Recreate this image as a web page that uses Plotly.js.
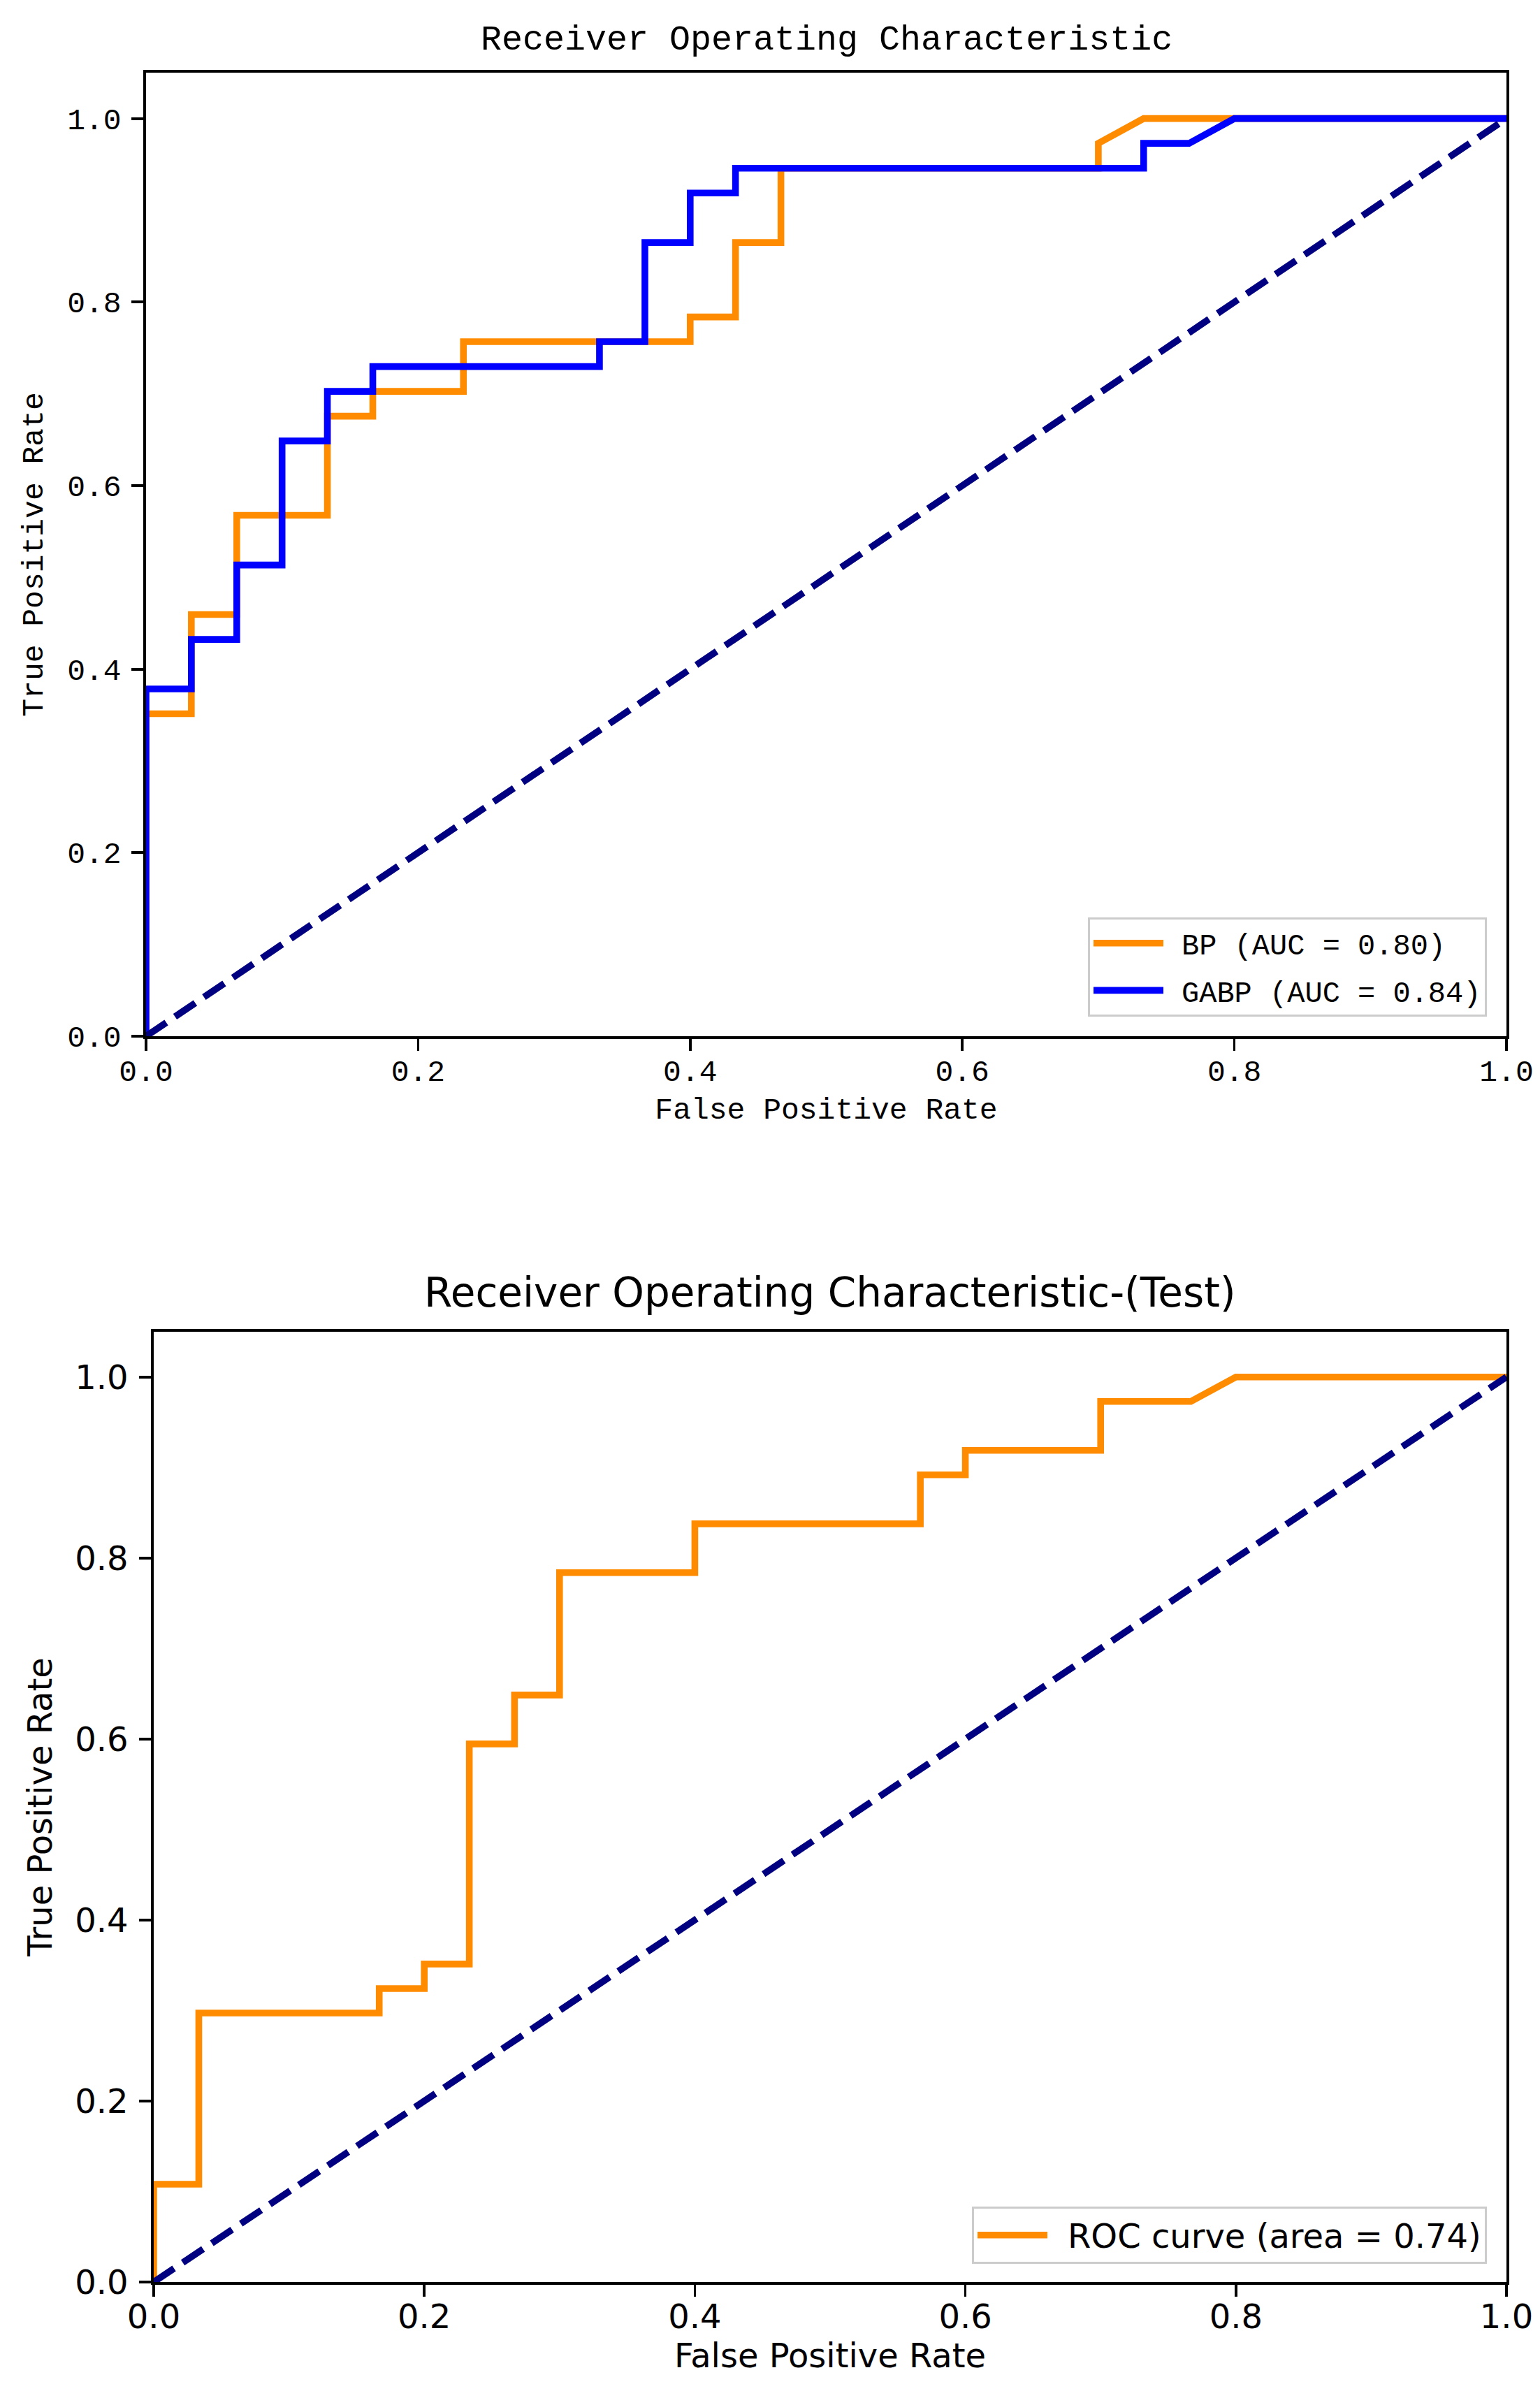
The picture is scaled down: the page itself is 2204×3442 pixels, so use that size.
<!DOCTYPE html>
<html>
<head>
<meta charset="utf-8">
<script src="https://cdn.plot.ly/plotly-3.0.1.min.js"></script>
<style>html,body{margin:0;padding:0;background:#fff;} #chart{width:2204px;height:3442px;}</style>
</head>
<body>
<div id="chart"></div>
<script>
// ---- Data ----
const bp_fpr   = [0,0,0.0333,0.0333,0.0667,0.0667,0.1333,0.1333,0.1667,0.1667,0.2333,0.2333,0.4,0.4,0.4333,0.4333,0.4667,0.4667,0.7,0.7,0.7333,1.0];
const bp_tpr   = [0,0.3514,0.3514,0.4595,0.4595,0.5676,0.5676,0.6757,0.6757,0.7027,0.7027,0.7568,0.7568,0.7838,0.7838,0.8649,0.8649,0.9459,0.9459,0.9730,1.0,1.0];
const gabp_fpr = [0,0,0.0333,0.0333,0.0667,0.0667,0.1,0.1,0.1333,0.1333,0.1667,0.1667,0.3333,0.3333,0.3667,0.3667,0.4,0.4,0.4333,0.4333,0.7333,0.7333,0.7667,0.8,1.0];
const gabp_tpr = [0,0.3784,0.3784,0.4324,0.4324,0.5135,0.5135,0.6486,0.6486,0.7027,0.7027,0.7297,0.7297,0.7568,0.7568,0.8649,0.8649,0.9189,0.9189,0.9459,0.9459,0.9730,0.9730,1.0,1.0];
const test_fpr = [0,0,0.0333,0.0333,0.1667,0.1667,0.2,0.2,0.2333,0.2333,0.2667,0.2667,0.3,0.3,0.4,0.4,0.5667,0.5667,0.6,0.6,0.7,0.7,0.7667,0.8,1.0];
const test_tpr = [0,0.1081,0.1081,0.2973,0.2973,0.3243,0.3243,0.3514,0.3514,0.5946,0.5946,0.6486,0.6486,0.7838,0.7838,0.8378,0.8378,0.8919,0.8919,0.9189,0.9189,0.9730,0.9730,1.0,1.0];
const diag_x = [0, 1];
const diag_y = [0, 1];
const tick_vals = [0, 0.2, 0.4, 0.6, 0.8, 1.0];
const tick_text = ["0.0", "0.2", "0.4", "0.6", "0.8", "1.0"];
const bp_name = "BP (AUC = 0.80)";
const gabp_name = "GABP (AUC = 0.84)";
const test_name = "ROC curve (area = 0.74)";
const title_top = "Receiver Operating Characteristic";
const title_bottom = "Receiver Operating Characteristic-(Test)";
const x_label = "False Positive Rate";
const y_label = "True Positive Rate";

// ---- Styling ----
const W = 2204, H = 3442;
const monoFont = "Liberation Mono, DejaVu Sans Mono, monospace";
const sansFont = "DejaVu Sans, sans-serif";
const LW = 9.6;
const dashStr = "35px,15px";
const gap = "\u2002";   // visual gap between legend handle and label

const traces = [
  {x: bp_fpr, y: bp_tpr, xaxis: 'x', yaxis: 'y', mode: 'lines', name: gap + bp_name,
   line: {color: '#ff8c00', width: LW}, legend: 'legend', legendgroup: 'g1'},
  {x: gabp_fpr, y: gabp_tpr, xaxis: 'x', yaxis: 'y', mode: 'lines', name: gap + gabp_name,
   line: {color: '#0000ff', width: LW}, legend: 'legend', legendgroup: 'g2'},
  {x: diag_x, y: diag_y, xaxis: 'x', yaxis: 'y', mode: 'lines', showlegend: false,
   line: {color: '#000080', width: LW, dash: dashStr}},
  {x: test_fpr, y: test_tpr, xaxis: 'x2', yaxis: 'y2', mode: 'lines', name: gap + test_name,
   line: {color: '#ff8c00', width: LW}, legend: 'legend2'},
  {x: diag_x, y: diag_y, xaxis: 'x2', yaxis: 'y2', mode: 'lines', showlegend: false,
   line: {color: '#000080', width: LW, dash: dashStr}}
];

function axis(domain, range, font, size, titleText, anchor, standoff, labelStandoff) {
  return {
    domain: domain, range: range, anchor: anchor,
    showgrid: false, zeroline: false,
    showline: true, linecolor: '#000', linewidth: 3.8, mirror: true,
    ticks: 'outside', ticklen: 17, tickwidth: 3.8, tickcolor: '#000',
    tickvals: tick_vals, ticktext: tick_text,
    tickfont: {family: font, size: size, color: '#000'},
    ticklabelstandoff: labelStandoff,
    title: {text: titleText, font: {family: font, size: size, color: '#000'}, standoff: standoff},
    automargin: false, fixedrange: true
  };
}

const topX = [209/W, 2156/W];
const topY = [1 - 1483/H, 1 - 104/H];
const botX = [220/W, 2156/W];
const botY = [1 - 3266/H, 1 - 1906/H];

const layout = {
  width: W, height: H,
  margin: {l: 0, r: 0, t: 0, b: 0},
  paper_bgcolor: '#fff', plot_bgcolor: '#fff',
  xaxis:  axis(topX, [0, 1], monoFont, 43, x_label, 'y', 12, -8),
  yaxis:  axis(topY, [0, 1.05], monoFont, 43, y_label, 'x', 22, 6),
  xaxis2: axis(botX, [0, 1], sansFont, 48, x_label, 'y2', 6, -12),
  yaxis2: axis(botY, [0, 1.05], sansFont, 48, y_label, 'x2', 18, 6),
  legend: {
    x: 2128/W, y: 1 - 1455/H, xanchor: 'right', yanchor: 'bottom',
    bgcolor: 'rgba(255,255,255,0.8)', bordercolor: '#cccccc', borderwidth: 3,
    font: {family: monoFont, size: 42, color: '#000'}, itemwidth: 100,
    traceorder: 'grouped', tracegroupgap: 10
  },
  legend2: {
    x: 2128/W, y: 1 - 3240/H, xanchor: 'right', yanchor: 'bottom',
    bgcolor: 'rgba(255,255,255,0.8)', bordercolor: '#cccccc', borderwidth: 3,
    font: {family: sansFont, size: 48, color: '#000'}, itemwidth: 100
  },
  annotations: [
    {text: title_top, xref: 'paper', yref: 'paper', x: (topX[0]+topX[1])/2, y: 1 - 88/H,
     xanchor: 'center', yanchor: 'bottom', showarrow: false,
     font: {family: monoFont, size: 50, color: '#000'}},
    {text: title_bottom, xref: 'paper', yref: 'paper', x: (botX[0]+botX[1])/2, y: 1 - 1886/H,
     xanchor: 'center', yanchor: 'bottom', showarrow: false,
     font: {family: sansFont, size: 58, color: '#000'}}
  ]
};

Plotly.newPlot('chart', traces, layout, {staticPlot: true, displayModeBar: false});
</script>
</body>
</html>
